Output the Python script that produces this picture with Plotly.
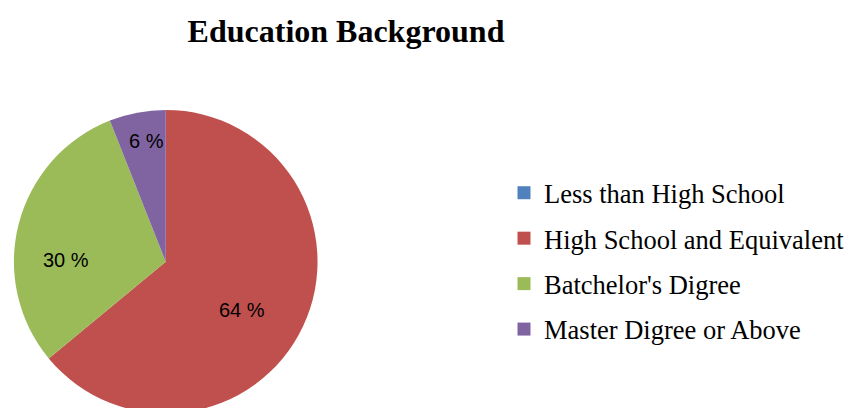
import math
import plotly.graph_objects as go

# Survey: education background of respondents (percent)
categories = [
    "Less than High School",
    "High School and Equivalent",
    "Batchelor's Digree",
    "Master Digree or Above",
]
shares = [0, 64, 30, 6]
colors = ["#4F81BD", "#C0504D", "#9BBB59", "#8064A2"]

W, H = 850, 416

fig = go.Figure()

# pie centred at (166.7, 261.7) px with radius ~152.7 px
cx, cy, r = 166.7, 261.7, 152.7
fig.add_trace(go.Pie(
    labels=categories,
    values=shares,
    marker=dict(colors=colors, line=dict(width=0)),
    sort=False,
    direction="clockwise",
    rotation=0,
    textposition="none",
    showlegend=False,
    hoverinfo="label+value",
    domain=dict(x=[(cx - r) / W, (cx + r) / W],
                y=[(H - (cy + r)) / H, (H - (cy - r)) / H]),
))

# data labels: placed along each slice's mid-angle (clockwise from 12 o'clock),
# with a small angular nudge and a radial fraction per slice ("best fit" style)
label_nudge = {1: (7.0, 0.59), 2: (-13.4, 0.66), 3: (1.6, 0.80)}
total = sum(shares)
start = 0.0
for i, v in enumerate(shares):
    frac = v / total
    if v > 0:
        mid = (start + frac / 2) * 360.0
        dang, rf = label_nudge.get(i, (0.0, 0.6))
        a = math.radians(mid + dang)
        px = cx + rf * r * math.sin(a)
        py = cy - rf * r * math.cos(a)
        fig.add_annotation(
            x=px / W, y=1 - py / H, xref="paper", yref="paper",
            text=f"{v} %", showarrow=False,
            font=dict(family="Liberation Sans", size=20, color="#000000"),
            xanchor="center", yanchor="middle",
        )
    start += frac

# legend entries, one group each so the rows can be spaced apart
for name, col in zip(categories, colors):
    fig.add_trace(go.Scatter(
        x=[None], y=[None], mode="markers", name=name, legendgroup=name,
        marker=dict(symbol="square", size=13, color=col),
    ))

fig.update_layout(
    width=W, height=H,
    margin=dict(l=0, r=0, t=0, b=0),
    paper_bgcolor="white", plot_bgcolor="white",
    xaxis=dict(visible=False), yaxis=dict(visible=False),
    title=dict(
        text="<b>Education Background</b>",
        font=dict(family="Liberation Serif", size=32, color="#000000"),
        x=346 / W, xanchor="center",
        y=1 - 31 / H, yanchor="middle", yref="paper",
    ),
    legend=dict(
        x=(547 - 40) / W, xanchor="left",
        y=1 - 169 / H, yanchor="top",
        font=dict(family="Liberation Serif", size=26.5, color="#000000"),
        tracegroupgap=8,
        bgcolor="rgba(0,0,0,0)",
    ),
)

fig.write_html(
    "out.html",
    post_script="document.documentElement.style.overflow='hidden';"
                "document.body.style.overflow='hidden';",
)
